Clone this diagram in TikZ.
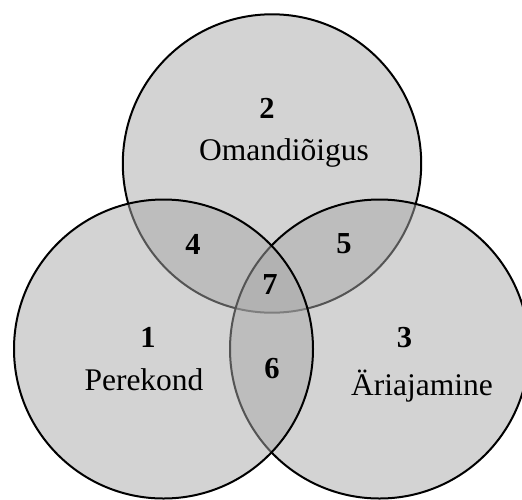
\documentclass[tikz,border=0pt]{standalone}
\usepackage{fontspec}
\setmainfont{Liberation Serif}
\definecolor{vennfill}{RGB}{168,168,168}
\tikzset{
  venn/.style={fill=vennfill, fill opacity=0.5, draw=black, line width=2pt},
  num/.style={inner sep=0pt, anchor=base, font=\fontsize{30.5}{36}\selectfont\bfseries},
  lbl/.style={inner sep=0pt, anchor=base, font=\fontsize{31.5}{37}\selectfont},
}
\begin{document}
\begin{tikzpicture}[x=1pt,y=-1pt]
\useasboundingbox (0,0) rectangle (522,499);
\clip (0,0) rectangle (522,499);
\fill[white] (0,0) rectangle (522,499);
% circles: top, right, left (drawing order matters)
\path[venn] (272,163.5) circle[radius=149.2];
\path[venn] (379.5,349) circle[radius=149.5];
\path[venn] (163.5,349) circle[radius=149.5];
% labels
\node[num] (n2) at (267,118) {2};
\node[lbl] (t2) at (284,160) {Omandiõigus};
\node[num] (n1) at (148,347) {1};
\node[lbl] (t1) at (144,390) {Perekond};
\node[num] (n3) at (404.5,347) {3};
\node[lbl] (t3) at (422,395) {Äriajamine};
\node[num] (n4) at (193,254) {4};
\node[num] (n5) at (344,253) {5};
\node[num] (n7) at (270,294) {7};
\node[num] (n6) at (272,378) {6};
\end{tikzpicture}
\end{document}
